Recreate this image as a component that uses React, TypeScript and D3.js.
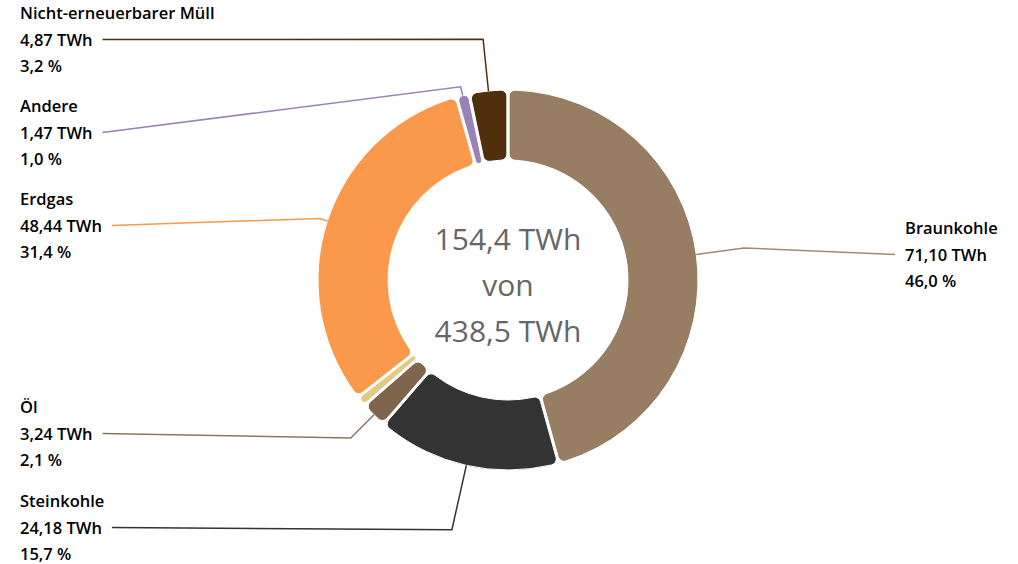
import * as d3 from "d3";
import { useEffect, useRef } from "react";

// Energy sources (clockwise from 12 o'clock)
const categories = [
  "Braunkohle",
  "Steinkohle",
  "Öl",
  "Sonstige",
  "Erdgas",
  "Andere",
  "Nicht-erneuerbarer Müll",
];
const valuesTWh = [71.1, 24.18, 3.24, 1.1, 48.44, 1.47, 4.87];
const shareLabels = ["46,0 %", "15,7 %", "2,1 %", "", "31,4 %", "1,0 %", "3,2 %"];
const twhLabels = ["71,10 TWh", "24,18 TWh", "3,24 TWh", "", "48,44 TWh", "1,47 TWh", "4,87 TWh"];
const colors = ["#977d62", "#333333", "#7f654b", "#e3c886", "#fa994c", "#9b82b5", "#50300c"];
const lineColors = ["#a08a74", "#333333", "#8c7762", "", "#fa994c", "#9b82b5", "#50300c"];
const centerLines = ["154,4 TWh", "von", "438,5 TWh"];

// label layout: text anchor position and radial elbow length
const labelLayout = [
  { x: 905, y: 234, side: "right", ext: 48 },
  { x: 20, y: 507, side: "left", ext: 66 },
  { x: 20, y: 413, side: "left", ext: 33 },
  null,
  { x: 20, y: 205, side: "left", ext: 8 },
  { x: 20, y: 112, side: "left", ext: 9 },
  { x: 20, y: 19, side: "left", ext: 52 },
];

export default function App() {
  const svgRef = useRef<SVGSVGElement>(null);

  useEffect(() => {
    if (!svgRef.current) return;
    const svg = d3.select(svgRef.current);
    svg.selectAll("*").remove();

    const cx = 508;
    const cy = 280;
    const outerR = 190;
    const innerR = 120;

    const data = categories.map((c, i) => ({ name: c, value: valuesTWh[i], i }));
    const pie = d3
      .pie<(typeof data)[0]>()
      .sort(null)
      .value((d) => d.value)
      .padAngle(0.01);
    const arcs = pie(data);

    const arc = d3
      .arc<d3.PieArcDatum<(typeof data)[0]>>()
      .innerRadius(innerR)
      .outerRadius(outerR)
      .cornerRadius(6);

    const g = svg.append("g").attr("transform", `translate(${cx},${cy})`);

    g.selectAll("path.slice")
      .data(arcs)
      .enter()
      .append("path")
      .attr("class", "slice")
      .attr("d", arc)
      .attr("fill", (d) => colors[d.data.i])
      .attr("stroke", "#ffffff")
      .attr("stroke-width", 1);

    // center text
    centerLines.forEach((t, k) => {
      svg
        .append("text")
        .attr("x", cx)
        .attr("y", 250 + k * 46)
        .attr("text-anchor", "middle")
        .style("font-family", "'Open Sans', sans-serif")
        .style("font-size", "30px")
        .style("fill", "#666666")
        .text(t);
    });

    // labels + leader lines
    arcs.forEach((a) => {
      const i = a.data.i;
      const lay = labelLayout[i];
      if (!lay) return;
      const labelG = svg.append("g");
      const lines = [categories[i], twhLabels[i], shareLabels[i]];
      const texts = lines.map((t, k) =>
        labelG
          .append("text")
          .attr("x", lay.x)
          .attr("y", lay.y + k * 26.5)
          .style("font-family", "'Open Sans', sans-serif")
          .style("font-weight", 600)
          .style("font-size", "16.5px")
          .style("fill", "#000000")
          .text(t),
      );
      const mid = (a.startAngle + a.endAngle) / 2;
      const sx = Math.sin(mid);
      const sy = -Math.cos(mid);
      const p0: [number, number] = [cx + outerR * sx, cy + outerR * sy];
      const p1: [number, number] = [
        cx + (outerR + lay.ext) * sx,
        cy + (outerR + lay.ext) * sy,
      ];
      const lineY = lay.y + 26.5 - 6;
      const w = (texts[1].node() as SVGTextElement).getComputedTextLength();
      const endX = lay.side === "left" ? lay.x + w + 10 : lay.x - 10;
      const p2: [number, number] = [endX, lineY];
      svg
        .append("path")
        .attr("d", d3.line()([p0, p1, p2]))
        .attr("fill", "none")
        .attr("stroke", lineColors[i])
        .attr("stroke-width", 1.5);
    });
  }, []);

  return (
    <div style={{ position: "absolute", left: 0, top: 0 }}>
      <svg ref={svgRef} width={1018} height={564} style={{ display: "block", background: "#fff" }} />
    </div>
  );
}
